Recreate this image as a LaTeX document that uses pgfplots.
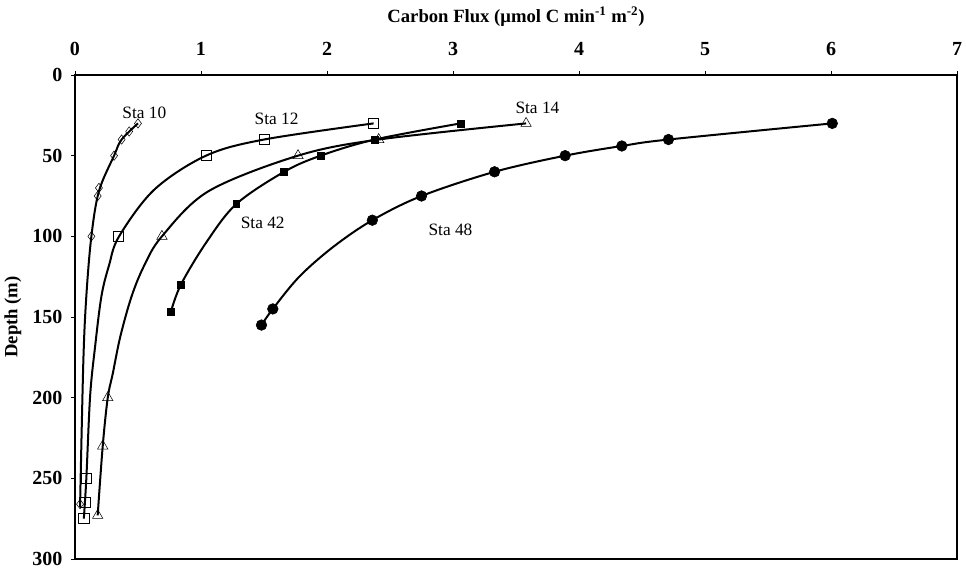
\documentclass[border=0pt]{standalone}
\usepackage{pgfplots}
\pgfplotsset{compat=1.18}
\usepackage{fontspec}
\setmainfont{Liberation Serif}
\begin{document}
\begin{tikzpicture}
\begin{axis}[
  scale only axis, width=661.5pt, height=363pt,
  xmin=0, xmax=7, ymin=0, ymax=300, y dir=reverse,
  xtick={0,1,...,7}, ytick={0,50,...,300},
  xtick pos=upper, ytick pos=lower, xticklabel pos=upper,
  tick align=outside, major tick length=3pt,
  axis line style={line width=1.6pt},
  tick style={black, line width=0.5pt},
  /pgf/number format/assume math mode=true,
  ticklabel style={font=\bfseries\fontsize{15}{17}\selectfont},
  xticklabel style={yshift=8pt},
  yticklabel style={xshift=-3pt},
  xlabel={\textbf{Carbon Flux (μmol C min\textsuperscript{-1} m\textsuperscript{-2})}},
  xlabel style={font=\fontsize{14}{16}\selectfont, at={(axis description cs:0.5,1)}, anchor=center, yshift=43.5pt},
  ylabel={\textbf{Depth (m)}},
  ylabel style={font=\fontsize{14}{16}\selectfont, at={(axis description cs:0,0.5)}, anchor=center, yshift=46.5pt},
  clip=false,
  curve/.style={black, line width=1.5pt, smooth, tension=0.55, no marks},
  pts/.style={black, only marks, mark options={line width=0.6pt}},
]
% ---- fitted curves ----
\addplot[curve] coordinates {(0.50,30)(0.37,40)(0.31,50)(0.19,72)(0.13,100)(0.09,137)(0.066,178)(0.04,268)};
\addplot[curve] coordinates {(2.37,30)(1.50,40)(1.04,50)(0.63,71)(0.35,100)(0.27,118)(0.21,137)(0.16,168)(0.12,199)(0.09,250)(0.07,275)};
\addplot[curve] coordinates {(3.58,30)(2.41,40)(1.77,50)(1.06,72)(0.69,100)(0.55,118)(0.45,137)(0.36,162)(0.30,185)(0.26,200)(0.22,230)(0.18,273)};
\addplot[curve] coordinates {(3.06,30)(2.38,40)(1.95,50)(1.66,60)(1.28,80)(1.04,104)(0.84,130)(0.76,147)};
\addplot[curve] coordinates {(6.01,30)(4.71,40)(4.34,44)(3.89,50)(3.33,60)(2.75,75)(2.36,90)(2.05,106.5)(1.78,125)(1.57,145)(1.48,155)};
% ---- data points ----
% Sta 10
\addplot[pts, mark=diamond, mark size=3.5pt, mark options={fill=white}] coordinates {
(0.50,30)(0.43,35)(0.37,40)(0.31,50)(0.19,70)(0.18,75)(0.13,100)(0.04,266)};
% Sta 12
\addplot[pts, mark=square, mark size=3.8pt, mark options={fill=white}] coordinates {
(2.37,30)(1.50,40)(1.04,50)(0.34,100)(0.09,250)(0.08,265)(0.07,275)};
% Sta 14
\addplot[pts, mark=triangle, mark size=4.5pt, mark options={fill=white}] coordinates {
(3.58,30)(2.41,40)(1.77,50)(0.69,100)(0.26,200)(0.22,230)(0.18,273)};
% Sta 42
\addplot[pts, mark=square*, mark size=2.6pt, mark options={fill=black}] coordinates {
(3.06,30)(2.38,40)(1.95,50)(1.66,60)(1.28,80)(0.84,130)(0.76,147)};
% Sta 48
\addplot[pts, mark=*, mark size=4pt, mark options={fill=black}] coordinates {
(6.01,30)(4.71,40)(4.34,44)(3.89,50)(3.33,60)(2.75,75)(2.36,90)(1.57,145)(1.48,155)};
\begin{scope}[every node/.style={font=\fontsize{13}{15}\selectfont}]
\node at (axis cs:0.55,23.6) {Sta 10};
\node at (axis cs:1.60,27) {Sta 12};
\node at (axis cs:3.67,20.5) {Sta 14};
\node at (axis cs:1.49,91.5) {Sta 42};
\node at (axis cs:2.98,96) {Sta 48};
\end{scope}
\end{axis}
\pgfresetboundingbox
\path[use as bounding box] ([shift={(-56.25pt,-7.5pt)}]current axis.south west) rectangle ([shift={(6.75pt,56.25pt)}]current axis.north east);
\end{tikzpicture}
\end{document}
